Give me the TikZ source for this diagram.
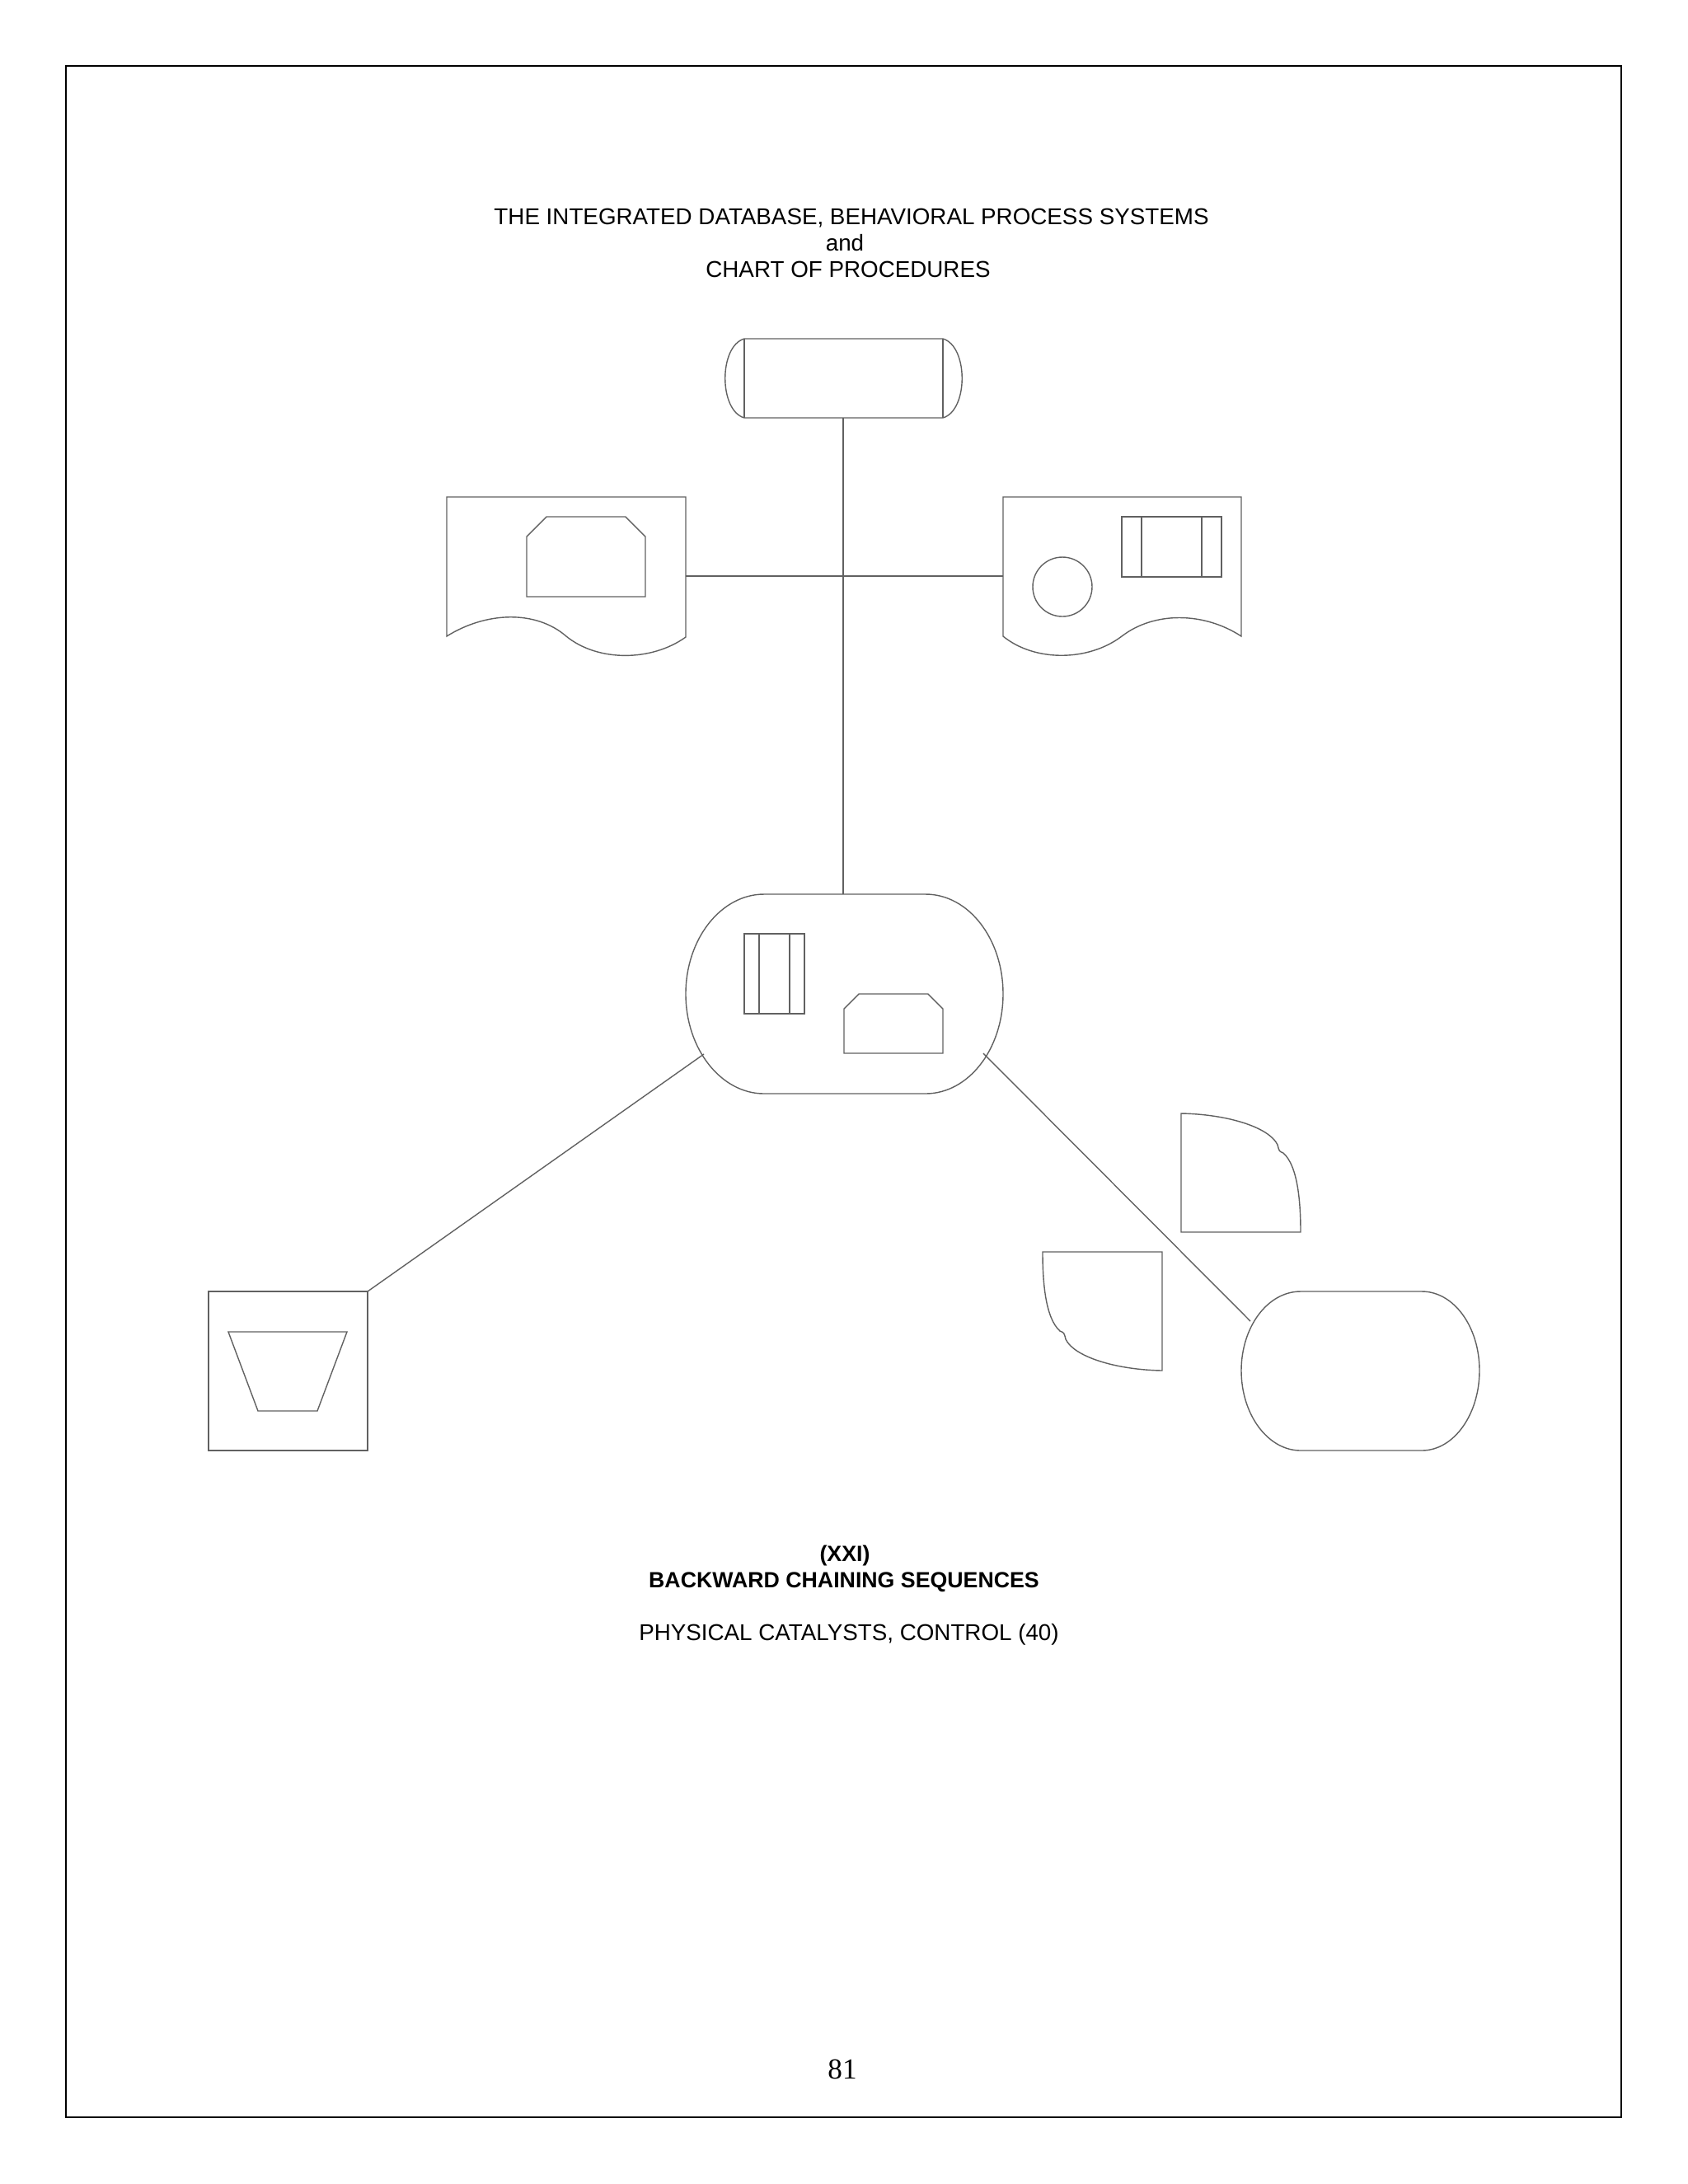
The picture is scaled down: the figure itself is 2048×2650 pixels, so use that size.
\documentclass[tikz,border=0pt]{standalone}
\usepackage{fontspec}
\setmainfont{Liberation Sans}
\newfontfamily\pagefont{Liberation Serif}
\begin{document}
\begin{tikzpicture}[x=0.01cm,y=-0.01cm,
  shp/.style={draw=black!62, line width=0.4pt, line join=miter},
  conn/.style={draw=black!62, line width=0.4pt},
  frame/.style={draw=black, line width=0.6pt},
  ttl/.style={font=\fontsize{7.9}{9.1}\selectfont, anchor=base, inner sep=0pt},
  ttlb/.style={font=\fontsize{7.6}{9.1}\selectfont\bfseries, anchor=base, inner sep=0pt}]
\useasboundingbox (0,0) rectangle (2048,2650);
\draw[frame] (80,80) rectangle (1967,2569);

% titles
\node[ttl] (t1) at (1033,272) {THE INTEGRATED DATABASE, BEHAVIORAL PROCESS SYSTEMS};
\node[ttl] (t2) at (1025,304) {and};
\node[ttl] (t3) at (1029,336) {CHART OF PROCEDURES};
\node[ttlb] (b1) at (1025,1894) {(XXI)};
\node[ttlb] (b2) at (1024,1926) {BACKWARD CHAINING SEQUENCES};
\node[ttl] (b3) at (1030,1990) {PHYSICAL CATALYSTS, CONTROL (40)};
\node[font=\pagefont\fontsize{10}{12}\selectfont, anchor=base, inner sep=0pt] (pg) at (1022,2522) {81};

% top cylinder (stored data)
\draw[shp] (903,411) -- (1144,411) .. controls (1175,420) and (1175,498) .. (1144,507)
  -- (903,507) .. controls (872,498) and (872,420) .. (903,411) -- cycle;
\draw[shp] (903,411) -- (903,507);
\draw[shp] (1144,411) -- (1144,507);
\coordinate (cylB) at (1023,507);

% left document
\draw[shp] (542,603) -- (832,603) -- (832,773)
  .. controls (790,803) and (725,803) .. (687,772)
  .. controls (650,740) and (590,742) .. (542,772) -- cycle;
\draw[shp] (663,627) -- (759,627) -- (783,651) -- (783,724) -- (639,724) -- (639,651) -- cycle;
\coordinate (docL) at (832,699);

% right document
\draw[shp] (1217,603) -- (1506,603) -- (1506,772)
  .. controls (1460,742) and (1400,742) .. (1361,772)
  .. controls (1320,803) and (1255,803) .. (1217,772) -- cycle;
\draw[shp] (1289,712) circle[radius=36];
\draw[shp] (1361,627) rectangle (1482,700);
\draw[shp] (1385,627) -- (1385,700);
\draw[shp] (1458,627) -- (1458,700);
\coordinate (docR) at (1217,699);

% central terminal
\draw[shp] (927,1085) -- (1123,1085)
  .. controls (1175,1085) and (1217,1139) .. (1217,1206)
  .. controls (1217,1273) and (1175,1327) .. (1123,1327)
  -- (927,1327)
  .. controls (875,1327) and (832,1273) .. (832,1206)
  .. controls (832,1139) and (875,1085) .. (927,1085) -- cycle;
\draw[shp] (903,1133) rectangle (976,1230);
\draw[shp] (921,1133) -- (921,1230);
\draw[shp] (958,1133) -- (958,1230);
\draw[shp] (1042,1206) -- (1126,1206) -- (1144,1224) -- (1144,1278) -- (1024,1278) -- (1024,1224) -- cycle;
\coordinate (cenT) at (1023,1085);
\coordinate (cenL) at (854,1279);
\coordinate (cenR) at (1193,1278);

% lower-left box with trapezoid
\draw[shp] (253,1567) rectangle (446,1760);
\draw[shp] (277,1616) -- (421,1616) -- (385,1712) -- (313,1712) -- cycle;
\coordinate (boxTR) at (446,1567);

% quarter shapes
\draw[shp] (1433,1351) .. controls (1490,1352) and (1540,1368) .. (1550,1389)
  .. controls (1552,1397) .. (1557,1399)
  .. controls (1575,1415) and (1578,1460) .. (1578,1495)
  -- (1433,1495) -- cycle;
\draw[shp] (1410,1663) .. controls (1353,1662) and (1303,1646) .. (1293,1625)
  .. controls (1291,1617) .. (1286,1615)
  .. controls (1268,1599) and (1265,1554) .. (1265,1519)
  -- (1410,1519) -- cycle;

% right terminal
\draw[shp] (1578,1567) -- (1725,1567)
  .. controls (1764,1567) and (1795,1610) .. (1795,1663)
  .. controls (1795,1716) and (1764,1760) .. (1725,1760)
  -- (1578,1760)
  .. controls (1538,1760) and (1506,1716) .. (1506,1663)
  .. controls (1506,1610) and (1538,1567) .. (1578,1567) -- cycle;
\coordinate (rtmL) at (1517,1603);

% connectors
\draw[conn] (cylB) -- (cenT);
\draw[conn] (docL) -- (docR);
\draw[conn] (cenL) -- (boxTR);
\draw[conn] (cenR) -- (rtmL);
\end{tikzpicture}
\end{document}
